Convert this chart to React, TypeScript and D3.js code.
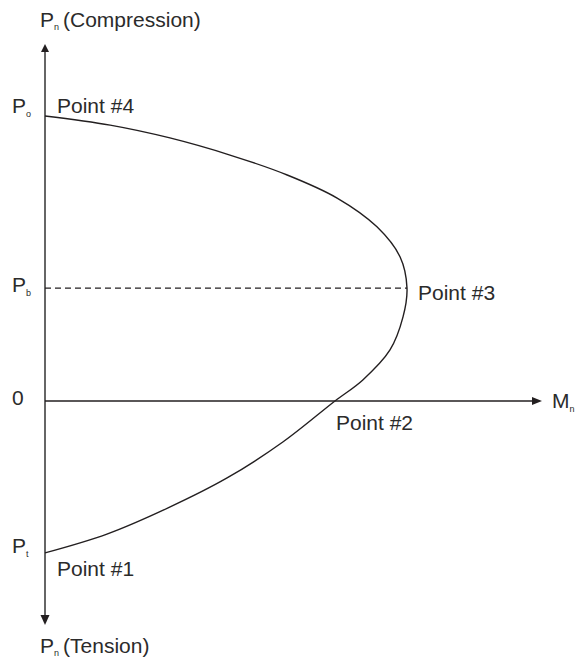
import React from "react";
import * as d3 from "d3";

// Interaction diagram: nominal moment M (x) vs nominal axial load P (y), normalised
const momentValues = [0, 0.18, 0.345, 0.511, 0.669, 0.807, 0.917, 0.981, 1.0, 0.989, 0.953, 0.878, 0.801, 0.657, 0.503, 0.34, 0.171, 0];
const loadValues = [1.0, 0.968, 0.923, 0.863, 0.793, 0.712, 0.611, 0.505, 0.396, 0.295, 0.179, 0.074, 0, -0.144, -0.27, -0.375, -0.467, -0.533];

const Po = 1.0;
const Pb = 0.396;
const Pt = -0.533;
const Mb = 1.0;
const Mzero = 0.801;

const axisYTop = 1.253;
const axisYBottom = -0.786;
const axisXEnd = 1.373;

const W = 577;
const H = 658;

export default function App() {
  const x = d3.scaleLinear().domain([0, 1]).range([45, 407]);
  const y = d3.scaleLinear().domain([0, 1]).range([401, 116]);

  const pts: [number, number][] = momentValues.map((m, i) => [m, loadValues[i]]);
  const line = d3
    .line<[number, number]>()
    .x((d) => x(d[0]))
    .y((d) => y(d[1]))
    .curve(d3.curveCatmullRom.alpha(0.5));

  const font = "'Liberation Sans', Arial, Helvetica, sans-serif";
  const fs = 21;
  const sub = 9;
  const x0 = x(0);
  const axisColor = "#666";
  const ink = "#231f20";
  const textInk = "#2b2b2b";

  return (
    <svg
      width={W}
      height={H}
      style={{ position: "absolute", left: 0, top: 0, background: "#fff" }}
      fontFamily={font}
      fill={textInk}
    >
      {/* vertical axis */}
      <line x1={x0} x2={x0} y1={y(axisYTop) + 6} y2={y(axisYBottom) - 8} stroke={axisColor} strokeWidth={2} />
      <path
        d={`M${x0},${y(axisYTop)} L${x0 - 4},${y(axisYTop) + 8} L${x0 + 4},${y(axisYTop) + 8} Z`}
        fill={ink}
      />
      <path
        d={`M${x0},${y(axisYBottom)} L${x0 - 4.5},${y(axisYBottom) - 10} L${x0 + 4.5},${y(axisYBottom) - 10} Z`}
        fill={ink}
      />
      {/* horizontal axis */}
      <line x1={x0} x2={x(axisXEnd) - 8} y1={y(0)} y2={y(0)} stroke={ink} strokeWidth={1.3} />
      <path
        d={`M${x(axisXEnd)},${y(0)} L${x(axisXEnd) - 10},${y(0) - 4} L${x(axisXEnd) - 10},${y(0) + 4} Z`}
        fill={ink}
      />
      {/* balanced dashed line */}
      <line
        x1={x0}
        x2={x(Mb)}
        y1={y(Pb)}
        y2={y(Pb)}
        stroke={ink}
        strokeWidth={1.2}
        strokeDasharray="6,4"
      />
      {/* interaction curve */}
      <path d={line(pts) || ""} fill="none" stroke={ink} strokeWidth={1.4} />

      {/* labels */}
      <text x={40} y={27} fontSize={fs}>
        P<tspan dy={3} fontSize={sub}>n</tspan>
        <tspan dy={-3} dx={4}>(Compression)</tspan>
      </text>
      <text x={12} y={y(Po) - 3} fontSize={fs}>
        P<tspan dy={4} fontSize={sub}>o</tspan>
      </text>
      <text x={57} y={y(Po) - 3} fontSize={fs}>Point #4</text>
      <text x={12} y={y(Pb) + 4} fontSize={fs}>
        P<tspan dy={4} fontSize={sub}>b</tspan>
      </text>
      <text x={x(Mb) + 11} y={y(Pb) + 12} fontSize={fs}>Point #3</text>
      <text x={12} y={y(0) + 4} fontSize={fs}>0</text>
      <text x={x(axisXEnd) + 10} y={y(0) + 7} fontSize={fs}>
        M<tspan dy={4} fontSize={sub}>n</tspan>
      </text>
      <text x={x(Mzero) + 1} y={y(0) + 29} fontSize={fs}>Point #2</text>
      <text x={12} y={y(Pt)} fontSize={fs}>
        P<tspan dy={4} fontSize={sub}>t</tspan>
      </text>
      <text x={57} y={y(Pt) + 23} fontSize={fs}>Point #1</text>
      <text x={40} y={653} fontSize={fs}>
        P<tspan dy={3} fontSize={sub}>n</tspan>
        <tspan dy={-3} dx={4}>(Tension)</tspan>
      </text>
    </svg>
  );
}
